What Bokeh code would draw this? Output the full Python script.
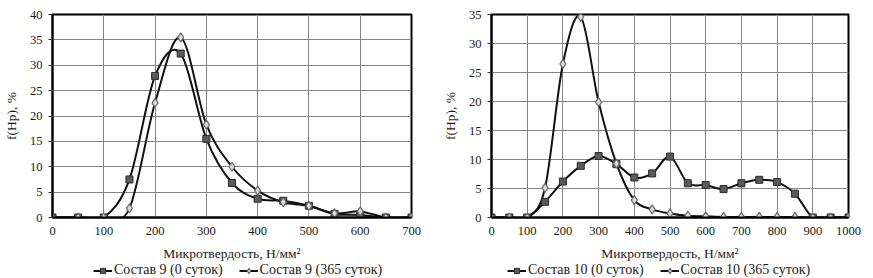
from bokeh.plotting import figure
from bokeh.layouts import row, column
from bokeh.models import Legend, LegendItem, FixedTicker, Range1d
from bokeh.embed import file_html
from bokeh.resources import INLINE

# ---- data ----
x9 = [0, 50, 100, 150, 200, 250, 300, 350, 400, 450, 500, 550, 600, 650, 700]
s9_0 = [0, 0, 0, 7.5, 27.9, 32.3, 15.5, 6.8, 3.7, 3.3, 2.3, 0.7, 0.5, 0, 0]
s9_365 = [0, 0, 0, 1.8, 22.6, 35.5, 18.3, 10.0, 5.3, 3.0, 2.3, 0.8, 1.2, 0, 0]
labels9 = ["Состав 9 (0 суток)", "Состав 9 (365 суток)"]

x10 = [0, 50, 100, 150, 200, 250, 300, 350, 400, 450, 500, 550, 600, 650, 700,
       750, 800, 850, 900, 950, 1000]
s10_0 = [0, 0, 0, 2.7, 6.2, 8.9, 10.6, 9.2, 6.9, 7.6, 10.5, 5.9, 5.6, 4.9, 5.9,
         6.5, 6.1, 4.1, 0, 0, 0]
s10_365 = [0, 0, 0, 5.1, 26.5, 34.6, 19.9, 9.3, 3.0, 1.4, 0.7, 0.3, 0.2, 0.1, 0.1,
           0.1, 0.1, 0.1, 0, 0, 0]
labels10 = ["Состав 10 (0 суток)", "Состав 10 (365 суток)"]

FONT = "Liberation Serif"
TXT = "#1a1a1a"
LINE = dict(line_color="#111111", line_width=2)
SQ = dict(marker="square", size=7, fill_color="#5a5a5a", line_color="#2a2a2a", line_width=1)
DI = dict(marker="diamond", size=9, fill_color="#dcdcdc", line_color="#6a6a6a", line_width=1.2)


def bez(x, y):
    n = len(x)
    d = dict(x0=[], y0=[], x1=[], y1=[], cx0=[], cy0=[], cx1=[], cy1=[])
    for i in range(n - 1):
        a = i - 1 if i > 0 else i
        b = i + 2 if i + 2 < n else i + 1
        d["x0"].append(x[i]); d["y0"].append(y[i])
        d["x1"].append(x[i + 1]); d["y1"].append(y[i + 1])
        d["cx0"].append(x[i] + (x[i + 1] - x[a]) / 6)
        d["cy0"].append(y[i] + (y[i + 1] - y[a]) / 6)
        d["cx1"].append(x[i + 1] - (x[b] - x[i]) / 6)
        d["cy1"].append(y[i + 1] - (y[b] - y[i]) / 6)
    return d


def make(x, ya, yb, xmax, ymax, bl, br, fw):
    p = figure(frame_width=fw, frame_height=203, output_backend="svg",
               toolbar_location=None, x_range=Range1d(0, xmax), y_range=Range1d(0, ymax),
               min_border_left=bl, min_border_right=br, min_border_top=14,
               min_border_bottom=0)
    p.outline_line_color = "black"
    p.outline_line_width = 2
    xt = FixedTicker(ticks=list(range(0, xmax + 1, 100)))
    yt = FixedTicker(ticks=list(range(0, ymax + 1, 5)))
    p.xaxis.ticker = xt
    p.yaxis.ticker = yt
    p.xgrid.ticker = xt
    p.ygrid.ticker = yt
    p.xgrid.grid_line_color = "#858585"
    p.ygrid.grid_line_color = "#858585"
    for ax in (p.xaxis, p.yaxis):
        ax.major_label_text_font = FONT
        ax.major_label_text_font_size = "12.5px"
        ax.major_label_text_color = TXT
        ax.axis_label_text_font = FONT
        ax.axis_label_text_font_size = "13.5px"
        ax.axis_label_text_font_style = "normal"
        ax.axis_label_text_color = TXT
        ax.minor_tick_line_color = None
        ax.axis_line_color = "black"
        ax.axis_line_width = 2
    p.xaxis.major_tick_line_color = None
    p.xaxis.major_tick_out = 0
    p.yaxis.major_tick_line_color = "#333333"
    p.yaxis.major_tick_out = 4
    p.yaxis.major_tick_in = 0
    p.xaxis.major_label_standoff = 9
    p.yaxis.major_label_standoff = 6
    p.xaxis.axis_label = "Микротвердость, Н/мм²"
    p.yaxis.axis_label = "f(Hp), %"
    p.xaxis.axis_label_standoff = 8
    p.yaxis.axis_label_standoff = 8

    p.bezier(source=bez(x, yb), x0="x0", y0="y0", x1="x1", y1="y1",
             cx0="cx0", cy0="cy0", cx1="cx1", cy1="cy1", **LINE)
    p.bezier(source=bez(x, ya), x0="x0", y0="y0", x1="x1", y1="y1",
             cx0="cx0", cy0="cy0", cx1="cx1", cy1="cy1", **LINE)
    p.scatter(x, ya, **SQ)
    p.scatter(x, yb, **DI)
    return p


def legend_fig(x, ya, yb, labels, w, lx):
    # legend-only figure: the series are plotted but the view range lies outside the data
    q = figure(width=w, height=17, output_backend="svg", toolbar_location=None,
               x_range=Range1d(-2, -1), y_range=Range1d(-2, -1),
               min_border=0, x_axis_type=None, y_axis_type=None)
    q.outline_line_color = None
    q.grid.visible = False
    la = q.line(x, ya, **LINE)
    ra = q.scatter(x, ya, **SQ)
    lb = q.line(x, yb, **LINE)
    rb = q.scatter(x, yb, **DI)
    leg = Legend(items=[LegendItem(label=labels[0], renderers=[la, ra]),
                        LegendItem(label=labels[1], renderers=[lb, rb])],
                 orientation="horizontal", location=(lx, 2),
                 label_text_font=FONT, label_text_font_size="14px", label_text_color=TXT,
                 glyph_width=19, glyph_height=13, label_standoff=2, spacing=16,
                 padding=1, margin=0, border_line_color=None, background_fill_alpha=0,
                 label_height=13)
    q.add_layout(leg, "center")
    return q


p1 = make(x9, s9_0, s9_365, 700, 40, 45, 24, 359)
p2 = make(x10, s10_0, s10_365, 1000, 35, 56, 16, 357)
q1 = legend_fig(x9, s9_0, s9_365, labels9, 428, 41)
q2 = legend_fig(x10, s10_0, s10_365, labels10, 429, 16)
lay = row(column(p1, q1), column(p2, q2))
open("out.html", "w").write(file_html(lay, INLINE))
